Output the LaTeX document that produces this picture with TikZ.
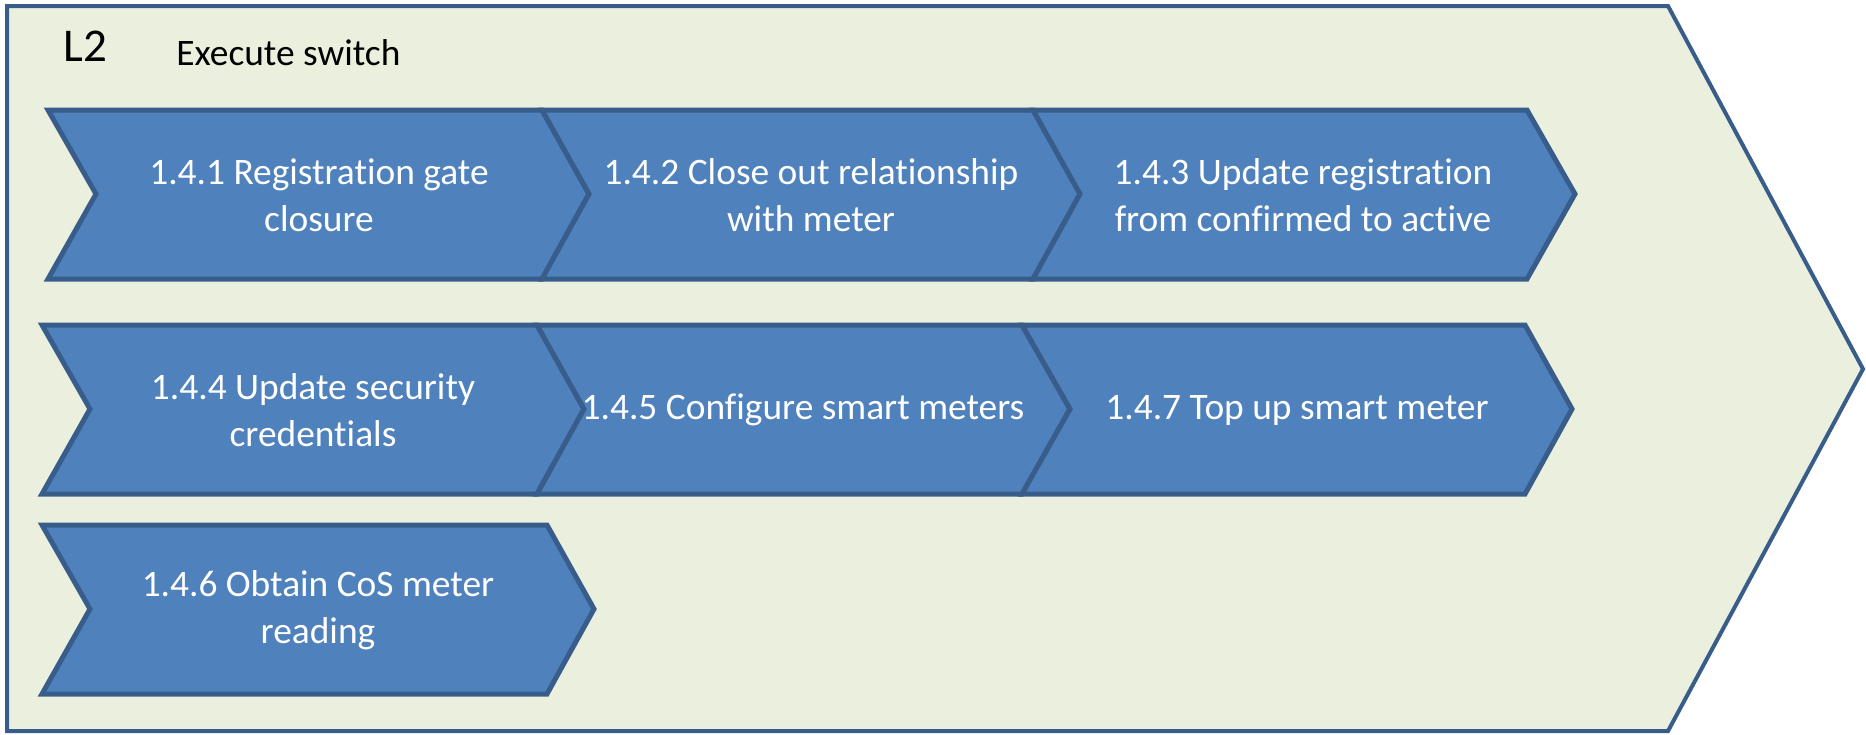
\documentclass[tikz,border=0pt]{standalone}
\usepackage{fontspec}
\setmainfont{Carlito}[Ligatures=NoCommon]
\usepackage{tikz}

\begin{document}
\begin{tikzpicture}[x=0.5pt,y=0.5pt,yscale=-1,xscale=1,
  chev/.style={draw={rgb, 255:red, 56; green, 93; blue, 138}, fill={rgb, 255:red, 79; green, 129; blue, 189}, line width=2.5pt, line join=miter},
  chevtext/.style={text={rgb, 255:red, 255; green, 255; blue, 255}, align=center, inner sep=0.75pt, font=\fontsize{18.7}{23.5}\selectfont}]
\useasboundingbox (0,0) rectangle (1866,734);

%Shape: Outer Chevron
\draw [draw={rgb, 255:red, 56; green, 93; blue, 138}, fill={rgb, 255:red, 235; green, 240; blue, 222}, line width=2pt]
  (7,6) -- (1668,6) -- (1863,369) -- (1668,731) -- (7,731) -- cycle ;

%Shape: Chevron 1.4.1
\draw [chev] (48,110) -- (542,110) -- (589,194) -- (542,279) -- (48,279) -- (96,194) -- cycle ;
%Shape: Chevron 1.4.2
\draw [chev] (542,110) -- (1033,110) -- (1080,194) -- (1033,279) -- (542,279) -- (589,194) -- cycle ;
%Shape: Chevron 1.4.3
\draw [chev] (1033,110) -- (1527,110) -- (1575,194) -- (1527,279) -- (1033,279) -- (1080,194) -- cycle ;
%Shape: Chevron 1.4.4
\draw [chev] (42,325) -- (537,325) -- (584,409) -- (537,494) -- (42,494) -- (90,409) -- cycle ;
%Shape: Chevron 1.4.5
\draw [chev] (537,325) -- (1022,325) -- (1070,409) -- (1022,494) -- (537,494) -- (584,409) -- cycle ;
%Shape: Chevron 1.4.7
\draw [chev] (1022,325) -- (1525,325) -- (1572,409) -- (1525,494) -- (1022,494) -- (1070,409) -- cycle ;
%Shape: Chevron 1.4.6
\draw [chev] (42,525) -- (547,525) -- (594,609) -- (547,694) -- (42,694) -- (90,609) -- cycle ;

% Text Node
\draw (63,61) node [anchor=base west][inner sep=0pt][font=\fontsize{23.5}{28}\selectfont] (lvl) {L2};
% Text Node
\draw (176,65) node [anchor=base west][inner sep=0pt][font=\fontsize{18.7}{23}\selectfont] (title) {Execute switch};
% Text Node
\draw (319,195) node [chevtext] (t141) {1.4.1 Registration gate\\closure};
% Text Node
\draw (811,195) node [chevtext] (t142) {1.4.2 Close out relationship\\with meter};
% Text Node
\draw (1303,195) node [chevtext] (t143) {1.4.3 Update registration\\from confirmed to active};
% Text Node
\draw (313,410) node [chevtext] (t144) {1.4.4 Update security\\credentials};
% Text Node
\draw (803,410) node [chevtext] (t145) {1.4.5 Configure smart meters};
% Text Node
\draw (1297,410) node [chevtext] (t147) {1.4.7 Top up smart meter};
% Text Node
\draw (318,610) node [chevtext] (t146) {1.4.6 Obtain CoS meter\\reading};

\end{tikzpicture}
\end{document}
